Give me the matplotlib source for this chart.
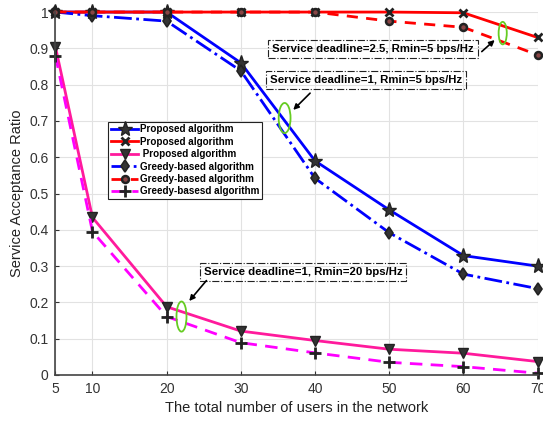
import matplotlib.pyplot as plt
from matplotlib.patches import Ellipse
import numpy as np

plt.rcParams['font.family'] = ['Liberation Sans', 'DejaVu Sans']

# 横軸: ユーザ数
users = [5, 10, 20, 30, 40, 50, 60, 70]

# deadline=1, Rmin=5
prop_d1_r5 = [1.0, 1.0, 1.0, 0.86, 0.59, 0.455, 0.329, 0.30]
greedy_d1_r5 = [1.0, 0.99, 0.975, 0.838, 0.542, 0.392, 0.278, 0.238]
# deadline=2.5, Rmin=5
prop_d25_r5 = [1.0, 1.0, 1.0, 1.0, 1.0, 1.0, 0.998, 0.93]
greedy_d25_r5 = [1.0, 1.0, 1.0, 1.0, 1.0, 0.975, 0.958, 0.882]
# deadline=1, Rmin=20
prop_d1_r20 = [0.905, 0.434, 0.188, 0.121, 0.095, 0.071, 0.060, 0.037]
greedy_d1_r20 = [0.88, 0.395, 0.161, 0.089, 0.061, 0.035, 0.023, 0.005]

labels = ['Proposed algorithm', 'Proposed algorithm', ' Proposed algorithm',
          'Greedy-based algorithm', 'Greedy-based algorithm', 'Greedy-basesd algorithm']

fig = plt.figure(figsize=(5.43, 4.23), dpi=100)
ax = fig.add_axes((0.102, 0.1135, 0.888, 0.858))

mk = dict(markeredgecolor='#222222', clip_on=False)
ax.plot(users, prop_d1_r5, '-', color='#0000ff', lw=2, marker='*', ms=11,
        markerfacecolor='#333333', label=labels[0], **mk)
ax.plot(users, prop_d25_r5, '-', color='#ff0000', lw=2, marker='x', ms=6,
        mew=2, label=labels[1], **mk)
ax.plot(users, prop_d1_r20, '-', color='#ff1a9c', lw=2, marker='v', ms=7,
        markerfacecolor='#333333', label=labels[2], **mk)
ax.plot(users, greedy_d1_r5, '-.', color='#0000ff', lw=2, marker='d', ms=6,
        markerfacecolor='#333333', mew=1.2, label=labels[3], **mk)
ax.plot(users, greedy_d25_r5, '--', color='#ff0000', lw=2, marker='o', ms=5,
        markerfacecolor='#884444', mew=1.8, dashes=(4, 3), label=labels[4], **mk)
ax.plot(users, greedy_d1_r20, '--', color='#ff00ff', lw=2, marker='+', ms=8,
        mew=2, dashes=(4.5, 3), label=labels[5], **mk)

ax.set_xlim(5, 70)
ax.set_ylim(0, 1)
ax.set_xticks(users)
ax.set_yticks(np.arange(0, 1.01, 0.1))
ax.set_yticklabels(['0', '0.1', '0.2', '0.3', '0.4', '0.5', '0.6', '0.7', '0.8', '0.9', '1'])
ax.tick_params(direction='in', length=3, labelsize=10, colors='#333333', pad=5)
ax.grid(True, color='#e2e2e2', lw=0.8)
ax.set_axisbelow(True)
for s in ['top', 'right']:
    ax.spines[s].set_visible(False)
for s in ['left', 'bottom']:
    ax.spines[s].set_color('#444444')
    ax.spines[s].set_linewidth(1.2)

ax.set_xlabel('The total number of users in the network', fontsize=10.5, color='#222222', labelpad=4)
ax.set_ylabel('Service Acceptance Ratio', fontsize=10.5, color='#222222', labelpad=4)

leg = ax.legend(loc='upper left', bbox_to_anchor=(0.1097, 0.698), borderaxespad=0,
                prop={'weight': 'bold', 'size': 7.1}, fancybox=False, edgecolor='#222222',
                framealpha=1, handlelength=2.8, handletextpad=0.2, labelspacing=0.25,
                borderpad=0.25)
leg.get_frame().set_linewidth(0.8)

# 注釈
box = dict(boxstyle='square,pad=0.35', fc='none', ec='#222222', ls='-.', lw=0.8)
ax.text(47.8, 0.8975, 'Service deadline=2.5, Rmin=5 bps/Hz', ha='center', va='center',
        fontsize=8.2, fontweight='bold', bbox=box)
ax.text(46.9, 0.813, 'Service deadline=1, Rmin=5 bps/Hz', ha='center', va='center',
        fontsize=8.2, fontweight='bold', bbox=box)
ax.text(38.4, 0.2846, 'Service deadline=1, Rmin=20 bps/Hz', ha='center', va='center',
        fontsize=8.2, fontweight='bold', bbox=box)

arrow = dict(arrowstyle='-|>', color='black', lw=1.2, mutation_scale=8)
ax.annotate('', xy=(64.5, 0.928), xytext=(62.2, 0.886), arrowprops=arrow)
ax.annotate('', xy=(36.8, 0.725), xytext=(39.6, 0.782), arrowprops=arrow)
ax.annotate('', xy=(22.8, 0.198), xytext=(25.6, 0.266), arrowprops=arrow)

for cx, cy, w, h in [(65.3, 0.942, 1.1, 0.062), (35.9, 0.708, 1.6, 0.083), (22.0, 0.161, 1.35, 0.083)]:
    ax.add_patch(Ellipse((cx, cy), w, h, fill=False, ec='#66cc22', lw=1.3, zorder=5))

fig.savefig('out.png', dpi=100)
